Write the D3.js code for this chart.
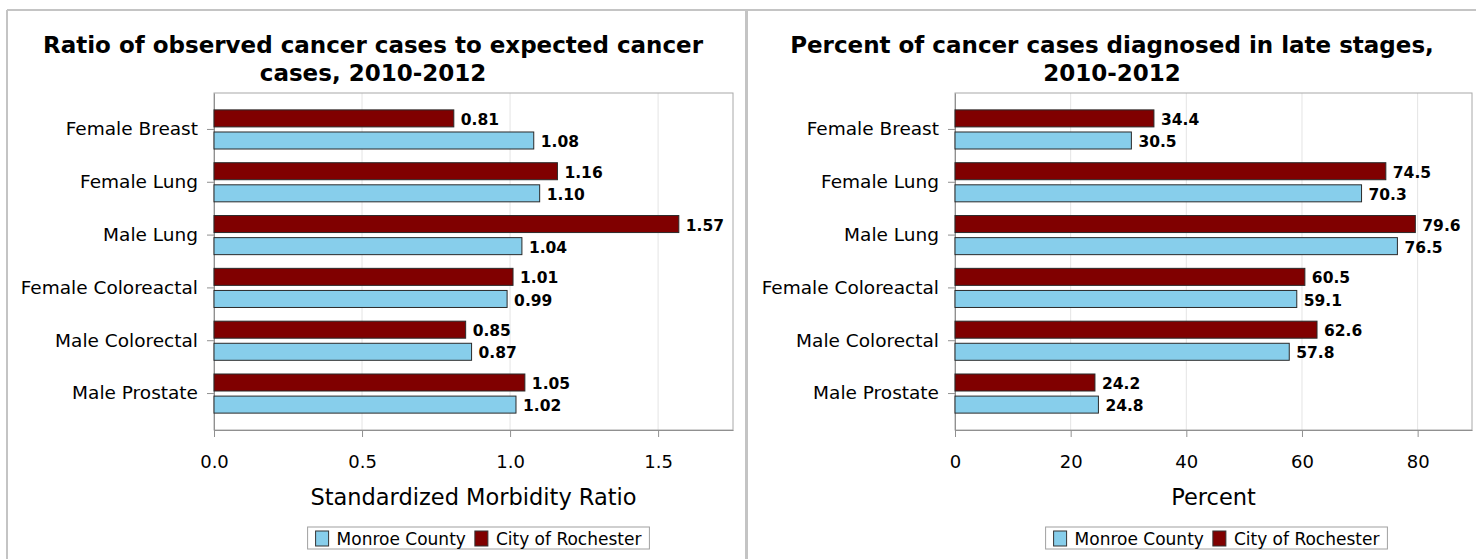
<!DOCTYPE html>
<html>
<head>
<meta charset="utf-8">
<script src="https://cdn.jsdelivr.net/npm/d3@7"></script>
<style>
  body { margin: 0; background: #fff; }
  svg { display: block; font-family: "DejaVu Sans", sans-serif; }
</style>
</head>
<body>
<svg id="chart" width="1476" height="559"></svg>
<script>
const categories = ["Female Breast", "Female Lung", "Male Lung", "Female Coloreactal", "Male Colorectal", "Male Prostate"];
const seriesNames = ["City of Rochester", "Monroe County"];
const legendOrder = ["Monroe County", "City of Rochester"];
const colors = { "City of Rochester": "#800000", "Monroe County": "#87ceeb" };

// standardized morbidity ratio
const smrRochester = [0.81, 1.16, 1.57, 1.01, 0.85, 1.05];
const smrMonroe = [1.08, 1.10, 1.04, 0.99, 0.87, 1.02];
const smrTicks = [0, 0.5, 1.0, 1.5];

// percent diagnosed late
const lateRochester = [34.4, 74.5, 79.6, 60.5, 62.6, 24.2];
const lateMonroe = [30.5, 70.3, 76.5, 59.1, 57.8, 24.8];
const lateTicks = [0, 20, 40, 60, 80];

const svg = d3.select("#chart");

// frame lines around the two panels
svg.append("line").attr("x1", 7).attr("x2", 1476).attr("y1", 10).attr("y2", 10)
    .attr("stroke", "#c4c4c4").attr("stroke-width", 2);
svg.append("line").attr("x1", 7).attr("x2", 7).attr("y1", 10).attr("y2", 559)
    .attr("stroke", "#c4c4c4").attr("stroke-width", 2);
svg.append("rect").attr("x", 745).attr("y", 10).attr("width", 3).attr("height", 549)
    .attr("fill", "#c4c4c4");

function drawPanel(opts) {
    const g = svg.append("g");
    const x = d3.scaleLinear().domain([0, opts.max]).range([opts.left, opts.right]);
    const y = d3.scaleBand().domain(categories).range([93, 430]).paddingInner(0).paddingOuter(0.19);
    const sub = d3.scaleBand().domain(seriesNames).range([0, y.bandwidth()])
        .paddingInner(0.23).paddingOuter(0.31);

    // title
    g.append("text")
        .attr("x", opts.titleX).attr("y", 53)
        .attr("text-anchor", "middle")
        .attr("font-size", 23).attr("font-weight", "bold")
        .selectAll("tspan").data(opts.title).enter().append("tspan")
        .attr("x", opts.titleX)
        .attr("dy", (d, i) => i === 0 ? 0 : 28)
        .text(d => d);

    // grid
    g.selectAll(".grid").data(opts.ticks.slice(1)).enter().append("line")
        .attr("x1", d => x(d)).attr("x2", d => x(d))
        .attr("y1", 93).attr("y2", 430)
        .attr("stroke", "#e4e4e4");

    // frame
    g.append("rect")
        .attr("x", opts.left).attr("y", 93)
        .attr("width", opts.right - opts.left).attr("height", 430 - 93)
        .attr("fill", "none").attr("stroke", "#a8a8a8");

    // x axis
    const xAxis = d3.axisBottom(x).tickValues(opts.ticks).tickSize(7).tickSizeOuter(0)
        .tickPadding(18).tickFormat(opts.fmt);
    const ax = g.append("g").attr("transform", "translate(0,430)").call(xAxis);
    ax.select(".domain").attr("stroke", "#909090");
    ax.selectAll(".tick line").attr("stroke", "#909090");
    ax.selectAll(".tick text").attr("font-size", 18).attr("fill", "#000")
        .attr("font-family", "DejaVu Sans");

    // y axis
    const yAxis = d3.axisLeft(y).tickSize(7).tickSizeOuter(0).tickPadding(9);
    const ay = g.append("g").attr("transform", `translate(${opts.left},0)`).call(yAxis);
    ay.select(".domain").attr("stroke", "#909090");
    ay.selectAll(".tick line").attr("stroke", "#909090");
    ay.selectAll(".tick text").attr("font-size", 18.5).attr("fill", "#000")
        .attr("font-family", "DejaVu Sans");

    // bars
    const rows = [];
    categories.forEach((c, i) => {
        rows.push({ cat: c, series: "City of Rochester", value: opts.rochester[i] });
        rows.push({ cat: c, series: "Monroe County", value: opts.monroe[i] });
    });
    g.selectAll(".bar").data(rows).enter().append("rect")
        .attr("x", x(0))
        .attr("y", d => y(d.cat) + sub(d.series))
        .attr("width", d => x(d.value) - x(0))
        .attr("height", sub.bandwidth())
        .attr("fill", d => colors[d.series])
        .attr("stroke", "#2a2a2a").attr("stroke-width", 1);

    g.selectAll(".val").data(rows).enter().append("text")
        .attr("x", d => x(d.value) + 7)
        .attr("y", d => y(d.cat) + sub(d.series) + sub.bandwidth() / 2 + 1)
        .attr("dy", "0.36em")
        .attr("font-size", 15.5).attr("font-weight", "bold")
        .text(d => opts.valFmt(d.value));

    // axis title
    const mid = (opts.left + opts.right) / 2;
    g.append("text")
        .attr("x", mid).attr("y", 505)
        .attr("text-anchor", "middle")
        .attr("font-size", 22.5)
        .text(opts.axisTitle);

    // legend
    const lg = g.append("g").attr("transform", `translate(${mid + opts.legendShift},0)`);
    const items = lg.selectAll(".item").data(legendOrder).enter().append("g");
    items.append("rect")
        .attr("y", 531).attr("width", 13).attr("height", 15)
        .attr("fill", d => colors[d]).attr("stroke", "#333");
    items.append("text")
        .attr("x", 21).attr("y", 538.5).attr("dy", "0.36em")
        .attr("font-size", 17)
        .text(d => d);
    // lay out items in a row then box them
    let cx = 0;
    const offs = [];
    items.each(function () {
        offs.push(cx);
        cx += this.getBBox().width + 9;
    });
    const total = cx - 9;
    items.attr("transform", (d, i) => `translate(${offs[i] - total / 2},0)`);
    lg.insert("rect", ":first-child")
        .attr("x", -total / 2 - 8).attr("y", 527)
        .attr("width", total + 16).attr("height", 22)
        .attr("fill", "#fff").attr("stroke", "#a0a0a0");
}

drawPanel({
    left: 214, right: 733, max: 1.753,
    ticks: smrTicks, fmt: d3.format(".1f"), valFmt: d3.format(".2f"),
    rochester: smrRochester, monroe: smrMonroe,
    title: ["Ratio of observed cancer cases to expected cancer", "cases, 2010-2012"],
    titleX: 373,
    axisTitle: "Standardized Morbidity Ratio",
    legendShift: 5
});

drawPanel({
    left: 955, right: 1472, max: 89.4,
    ticks: lateTicks, fmt: d3.format("d"), valFmt: d3.format(".1f"),
    rochester: lateRochester, monroe: lateMonroe,
    title: ["Percent of cancer cases diagnosed in late stages,", "2010-2012"],
    titleX: 1112,
    axisTitle: "Percent",
    legendShift: 3
});
</script>
</body>
</html>
